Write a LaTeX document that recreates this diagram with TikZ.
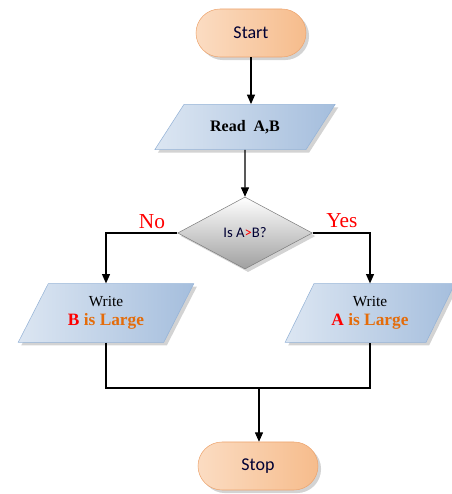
\documentclass[tikz,border=0pt]{standalone}
\usepackage{fontspec}
\setmainfont{Liberation Serif}
\newfontfamily\calfont{Carlito}
\usepackage{tikz}
\usetikzlibrary{arrows.meta, shapes.geometric, shadows, calc}
\definecolor{termfill}{HTML}{FBDCC2}
\definecolor{termdark}{HTML}{F6BC8C}
\definecolor{termline}{HTML}{EDA46E}
\definecolor{iofill}{HTML}{DCE6F2}
\definecolor{iodark}{HTML}{A5BEDD}
\definecolor{ioline}{HTML}{95B3D7}
\definecolor{largeorange}{HTML}{E46C0A}
\tikzset{
  termnode/.style={
    rectangle, rounded corners=18pt,
    minimum width=#1, minimum height=36pt,
    text centered, font=\calfont\fontsize{13.5}{15}\selectfont, text=black!80!blue,
    draw=termline, left color=termfill, right color=termdark,
    drop shadow={opacity=0.35}
  },
  ionode/.style={
    trapezium, trapezium stretches=true,
    trapezium left angle=#1, trapezium right angle=180-#1,
    text centered, align=center, font=\bfseries\fontsize{12}{14}\selectfont,
    draw=ioline, left color=iofill, right color=iodark,
    drop shadow={opacity=0.35}
  },
  decnode/.style={
    diamond, inner sep=0pt,
    minimum width=101pt, minimum height=54pt,
    text centered, font=\calfont\fontsize{11}{13}\selectfont, text=black!80!blue,
    draw=gray, top color=white, bottom color=gray!75,
    drop shadow={opacity=0.35}
  },
  flowarrow/.style={-{Triangle[width=6pt,length=7pt]}, line width=0.8pt, black},
  flowline/.style={line width=0.8pt, black},
  branchlbl/.style={text=red, font=\fontsize{16}{18}\selectfont},
}

\begin{document}
\begin{tikzpicture}[x=0.75pt,y=0.75pt]
      \useasboundingbox (0,0) rectangle (452,494);
      \node[termnode=82.5pt](start)at(251,461){Start};
      \node[ionode=50,minimum width=136pt,minimum height=34pt](read)at(245,367){Read\ \ A,B};
      \node[decnode](isab)at(245,261){Is A{\color{red}>}B?};
      \node[ionode=62,minimum width=132pt,minimum height=44pt](wb)at(106,181)
           {\mdseries\fontsize{11.5}{14}\selectfont Write\\{\fontsize{13}{15}\selectfont\bfseries\color{red}B \color{largeorange}is Large}};
      \node[ionode=62,minimum width=128pt,minimum height=44pt](wa)at(370,181)
           {\mdseries\fontsize{11.5}{14}\selectfont Write\\{\fontsize{13}{15}\selectfont\bfseries\color{red}A \color{largeorange}is Large}};
      \node[termnode=90pt](stop)at(258,28){Stop};
      \node[branchlbl](no)at(152,272){No};
      \node[branchlbl](yes)at(342,273){Yes};
      \coordinate(join)at(259,106);
      \draw[flowarrow](start.south)--(read.north -| start.south);
      \draw[flowarrow](read)--(isab.north);
      \draw[flowarrow](isab.west)-|(wb.north);
      \draw[flowarrow](isab.east)-|(wa.north);
      \draw[flowline](wb.south)|-(join)-|(wa.south);
      \draw[flowarrow](join)--(stop.north -| join);
    \end{tikzpicture}
\end{document}
